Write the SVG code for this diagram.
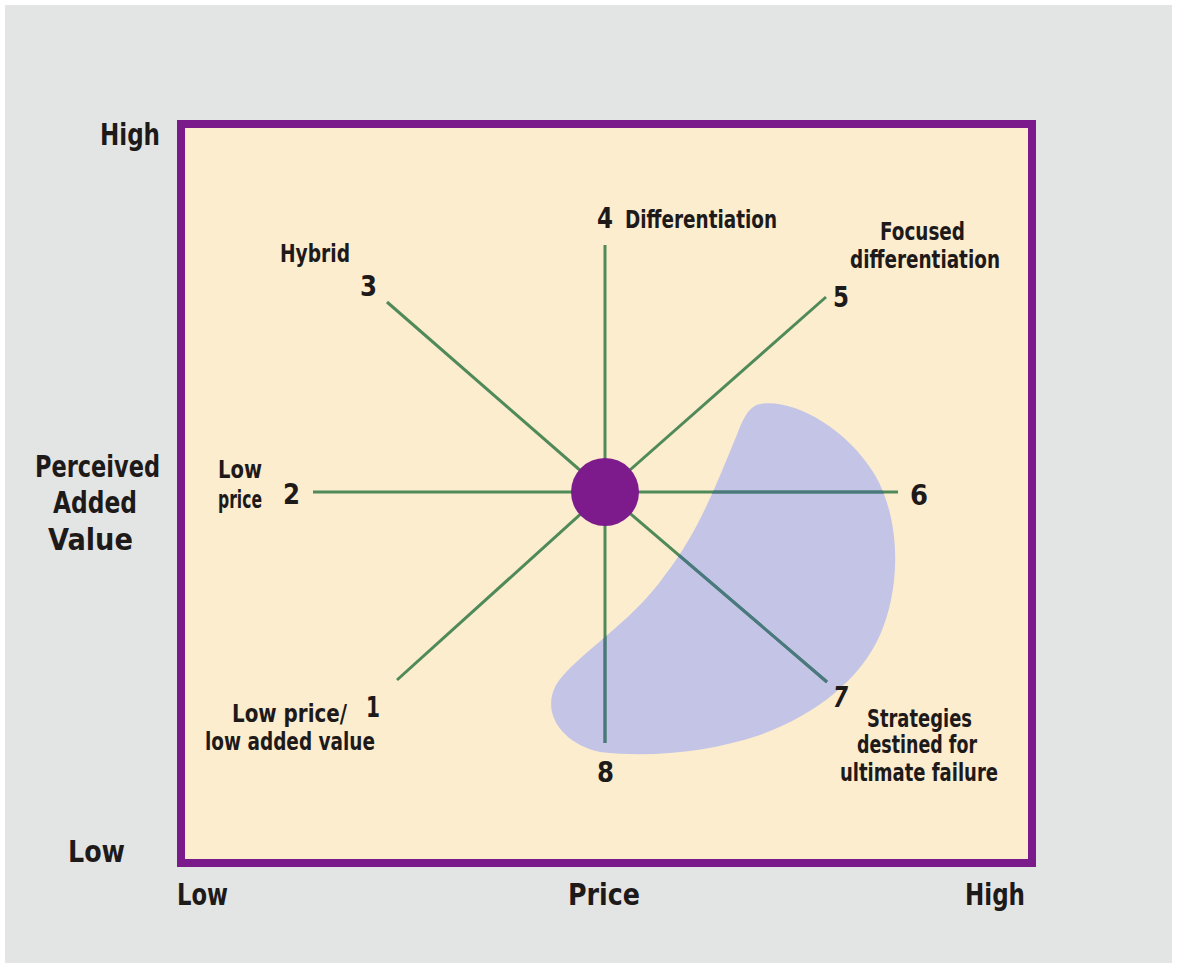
<svg xmlns="http://www.w3.org/2000/svg" width="1177" height="968" viewBox="0 0 1177 968">
  <defs>
    <style>
      .lbl { font-family: "DejaVu Sans Condensed", "DejaVu Sans", "Liberation Sans", sans-serif; font-weight: bold; fill: #1e1a1a; }
      .axis { font-size: 31px; }
      .num { font-size: 29px; }
      .small { font-size: 24px; }
      .ray { stroke: #4f8a58; stroke-width: 3; fill: none; }
      .ray-in { stroke: #4a7880; stroke-width: 3; fill: none; }
    </style>
    <path id="zone-shape" d="M 760 404 C 790 398, 845 425, 875 475 C 900 518, 902 585, 880 635 C 860 680, 815 715, 760 735 C 710 752, 650 758, 600 752 C 565 745, 540 715, 556 685 C 575 655, 630 625, 665 575 C 700 530, 718 480, 738 432 C 744 416, 750 406, 760 404 Z"/>
    <clipPath id="zone-clip">
      <use href="#zone-shape"/>
    </clipPath>
  </defs>

  <!-- page background -->
  <rect x="0" y="0" width="1177" height="968" fill="#ffffff"/>
  <rect x="5" y="5" width="1167" height="958" fill="#e3e5e4"/>

  <!-- chart frame -->
  <rect id="frame" x="181" y="124" width="851" height="739" fill="#fcedcf" stroke="#7a1a8b" stroke-width="8"/>

  <!-- failure zone -->
  <g id="failure-zone">
    <use href="#zone-shape" fill="#c4c5e6"/>
  </g>

  <!-- strategy rays -->
  <g id="connectors">
    <line class="ray" x1="605" y1="245" x2="605" y2="743"/>
    <line class="ray" x1="313" y1="492" x2="898" y2="492"/>
    <line class="ray" x1="387" y1="302" x2="605" y2="492"/>
    <line class="ray" x1="826" y1="297" x2="605" y2="492"/>
    <line class="ray" x1="397" y1="680" x2="605" y2="492"/>
    <line class="ray" x1="827" y1="682" x2="605" y2="492"/>
    <!-- ray segments tinted where they cross the zone -->
    <g clip-path="url(#zone-clip)">
      <line class="ray-in" x1="605" y1="492" x2="605" y2="743"/>
      <line class="ray-in" x1="605" y1="492" x2="898" y2="492"/>
      <line class="ray-in" x1="827" y1="682" x2="605" y2="492"/>
    </g>
  </g>

  <!-- hub -->
  <g id="hub">
    <circle cx="605" cy="492" r="34" fill="#7d1a8c"/>
  </g>

  <!-- axis labels -->
  <g id="axis-labels" class="lbl axis">
    <text x="100" y="145" textLength="60" lengthAdjust="spacingAndGlyphs">High</text>
    <text x="35" y="477" textLength="125" lengthAdjust="spacingAndGlyphs">Perceived</text>
    <text x="53" y="513" textLength="84" lengthAdjust="spacingAndGlyphs">Added</text>
    <text x="48" y="550" textLength="85" lengthAdjust="spacingAndGlyphs">Value</text>
    <text x="68" y="862" textLength="57" lengthAdjust="spacingAndGlyphs">Low</text>
    <text x="177" y="905" textLength="51" lengthAdjust="spacingAndGlyphs">Low</text>
    <text x="568" y="905" textLength="72" lengthAdjust="spacingAndGlyphs">Price</text>
    <text x="965" y="905" textLength="60" lengthAdjust="spacingAndGlyphs">High</text>
  </g>

  <g id="s1" class="lbl">
    <text class="num" x="366" y="717" textLength="14" lengthAdjust="spacingAndGlyphs">1</text>
    <text class="small" x="232" y="722" textLength="115" lengthAdjust="spacingAndGlyphs">Low price/</text>
    <text class="small" x="205" y="750" textLength="170" lengthAdjust="spacingAndGlyphs">low added value</text>
  </g>

  <g id="s2" class="lbl">
    <text class="small" x="218" y="478" textLength="44" lengthAdjust="spacingAndGlyphs">Low</text>
    <text class="small" x="218" y="508" textLength="44" lengthAdjust="spacingAndGlyphs">price</text>
    <text class="num" x="283" y="504" textLength="17" lengthAdjust="spacingAndGlyphs">2</text>
  </g>

  <g id="s3" class="lbl">
    <text class="small" x="280" y="262" textLength="70" lengthAdjust="spacingAndGlyphs">Hybrid</text>
    <text class="num" x="360" y="296" textLength="17" lengthAdjust="spacingAndGlyphs">3</text>
  </g>

  <g id="s4" class="lbl">
    <text class="num" x="597" y="228" textLength="16" lengthAdjust="spacingAndGlyphs">4</text>
    <text class="small" x="625" y="228" textLength="152" lengthAdjust="spacingAndGlyphs">Differentiation</text>
  </g>

  <g id="s5" class="lbl">
    <text class="small" x="880" y="240" textLength="85" lengthAdjust="spacingAndGlyphs">Focused</text>
    <text class="small" x="850" y="268" textLength="150" lengthAdjust="spacingAndGlyphs">differentiation</text>
    <text class="num" x="833" y="307" textLength="16" lengthAdjust="spacingAndGlyphs">5</text>
  </g>

  <g id="s6" class="lbl">
    <text class="num" x="910" y="505" textLength="18" lengthAdjust="spacingAndGlyphs">6</text>
  </g>

  <g id="s7" class="lbl">
    <text class="num" x="833" y="707" textLength="15" lengthAdjust="spacingAndGlyphs" font-style="italic">7</text>
    <text class="small" x="867" y="727" textLength="105" lengthAdjust="spacingAndGlyphs">Strategies</text>
    <text class="small" x="857" y="753" textLength="120" lengthAdjust="spacingAndGlyphs">destined for</text>
    <text class="small" x="840" y="781" textLength="158" lengthAdjust="spacingAndGlyphs">ultimate failure</text>
  </g>

  <g id="s8" class="lbl">
    <text class="num" x="597" y="782" textLength="17" lengthAdjust="spacingAndGlyphs">8</text>
  </g>
</svg>
